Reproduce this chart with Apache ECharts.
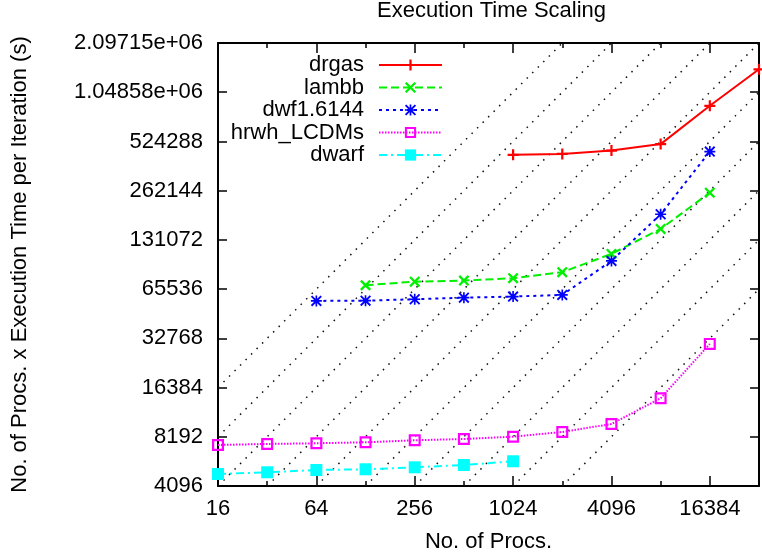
<!DOCTYPE html>
<html><head><meta charset="utf-8">
<script src="https://cdn.jsdelivr.net/npm/echarts@6/dist/echarts.min.js"></script>
<style>html,body{margin:0;padding:0;background:#fff}#c{width:762px;height:558px}</style>
</head><body><div id="c"></div>
<script>
const titleText = 'Execution Time Scaling';
const xName = 'No. of Procs.';
const yName = 'No. of Procs. x Execution Time per Iteration (s)';

const X_MIN = 16, X_MAX = 32768, Y_MIN = 4096, Y_MAX = 2097152;
const xTickValues = [16, 64, 256, 1024, 4096, 16384];
const xTickLabels = ['16', '64', '256', '1024', '4096', '16384'];
const yTickValues = [4096, 8192, 16384, 32768, 65536, 131072, 262144, 524288, 1048576, 2097152];
const yTickLabels = ['4096', '8192', '16384', '32768', '65536', '131072', '262144', '524288', '1.04858e+06', '2.09715e+06'];

const seriesNames = ['drgas', 'lambb', 'dwf1.6144', 'hrwh_LCDMs', 'dwarf'];
const drgasProcs = [1024, 2048, 4096, 8192, 16384, 32768];
const drgasValues = [434000, 440000, 461000, 505000, 866000, 1448000];
const lambbProcs = [128, 256, 512, 1024, 2048, 4096, 8192, 16384];
const lambbValues = [69200, 72800, 73900, 76400, 83200, 107600, 153000, 255000];
const dwfProcs = [64, 128, 256, 512, 1024, 2048, 4096, 8192, 16384];
const dwfValues = [55500, 55700, 56800, 58100, 59000, 60400, 97500, 188000, 454700];
const hrwhProcs = [16, 32, 64, 128, 256, 512, 1024, 2048, 4096, 8192, 16384];
const hrwhValues = [7298, 7403, 7475, 7581, 7797, 7942, 8203, 8766, 9813, 14094, 30287];
const dwarfProcs = [16, 32, 64, 128, 256, 512, 1024];
const dwarfValues = [4849, 4970, 5132, 5183, 5330, 5505, 5801];

// constants c of the ideal-scaling reference lines  y = c * x
const idealConstants = [2, 4, 8, 16, 32, 64, 128, 256, 512, 1024];

const FONT = '"Liberation Sans", Arial, Helvetica, sans-serif';
const txt = { fontSize: 22, fontFamily: FONT, color: '#000' };

const PLUS = 'path://M4,0h2v10h-2z M0,4h10v2h-10z';
const CROSS = 'path://M1.5,0 L10,8.5 L8.5,10 L0,1.5 Z M8.5,0 L10,1.5 L1.5,10 L0,8.5 Z';
const STAR = 'path://M4.25,0h1.5v10h-1.5z M0,4.25h10v1.5h-10z M1.2,0 L10,8.8 L8.8,10 L0,1.2 Z M8.8,0 L10,1.2 L1.2,10 L0,8.8 Z';
const OPENSQ = 'path://M0,0h12v12h-12z M2.2,2.2v7.6h7.6v-7.6z';

function zip(a, b) { return a.map((v, i) => [v, b[i]]); }
function lookup(vals, labels, v) {
  for (let i = 0; i < vals.length; i++) {
    if (Math.abs(Math.log2(v) - Math.log2(vals[i])) < 0.01) return labels[i];
  }
  return '';
}

function xAx(position, interval, tickLen, showLine, showLabel, withName) {
  const a = {
    type: 'log', logBase: 2, min: X_MIN, max: X_MAX, interval: interval, position: position,
    axisLine: { show: showLine, lineStyle: { color: '#000', width: 2 } },
    axisTick: { show: true, inside: true, length: tickLen, lineStyle: { color: '#000', width: 1.5 } },
    axisLabel: { show: showLabel, margin: 12, formatter: v => lookup(xTickValues, xTickLabels, v), ...txt },
    splitLine: { show: false }, minorTick: { show: false }
  };
  if (withName) {
    Object.assign(a, { name: xName, nameLocation: 'middle', nameGap: 45, nameTextStyle: txt });
  }
  return a;
}
function yAx(position, showLabel, withName) {
  const a = {
    type: 'log', logBase: 2, min: Y_MIN, max: Y_MAX, interval: 1, position: position,
    axisLine: { show: true, lineStyle: { color: '#000', width: 2 } },
    axisTick: { show: true, inside: true, length: 9, lineStyle: { color: '#000', width: 1.5 } },
    axisLabel: { show: showLabel, margin: 15, formatter: v => lookup(yTickValues, yTickLabels, v), ...txt },
    splitLine: { show: false }, minorTick: { show: false }
  };
  if (withName) {
    Object.assign(a, { name: yName, nameLocation: 'middle', nameGap: 187, nameTextStyle: txt });
  }
  return a;
}

const dataSeries = [
  { name: seriesNames[0], data: zip(drgasProcs, drgasValues), color: '#ff0000', symbol: PLUS, size: 11, dash: 'solid' },
  { name: seriesNames[1], data: zip(lambbProcs, lambbValues), color: '#00f000', symbol: CROSS, size: 11, dash: [8, 4] },
  { name: seriesNames[2], data: zip(dwfProcs, dwfValues), color: '#0000ff', symbol: STAR, size: 11, dash: [3, 4] },
  { name: seriesNames[3], data: zip(hrwhProcs, hrwhValues), color: '#ff00ff', symbol: OPENSQ, size: 12, dash: [1.5, 1.5] },
  { name: seriesNames[4], data: zip(dwarfProcs, dwarfValues), color: '#00ffff', symbol: 'rect', size: 12, dash: [8, 4, 2, 4] }
].map(s => ({
  name: s.name, type: 'line', data: s.data, xAxisIndex: 0, yAxisIndex: 0,
  symbol: s.symbol, symbolSize: s.size, showSymbol: true, z: 5,
  lineStyle: { color: s.color, width: 2, type: s.dash },
  itemStyle: { color: s.color, borderWidth: 0 },
  emphasis: { disabled: true }
}));

const idealSeries = idealConstants.map(c => {
  const x0 = Math.max(X_MIN, Y_MIN / c), x1 = Math.min(X_MAX, Y_MAX / c);
  return {
    type: 'line', data: [[x0, c * x0], [x1, c * x1]], xAxisIndex: 0, yAxisIndex: 0,
    symbol: 'none', silent: true, z: 1,
    lineStyle: { color: '#111', width: 1.5, type: [1.5, 6.3] },
    emphasis: { disabled: true }
  };
});

const chart = echarts.init(document.getElementById('c'), null, { renderer: 'canvas' });
chart.setOption({
  animation: false,
  backgroundColor: '#fff',
  title: { text: titleText, left: 491.5, top: 0, textAlign: 'center', padding: 0,
    textStyle: { fontSize: 22, fontWeight: 'normal', fontFamily: FONT, color: '#000' } },
  grid: { left: 218, right: -3, top: 43, bottom: 72 },
  legend: {
    data: seriesNames, orient: 'vertical', right: 319, top: 54, align: 'right',
    itemWidth: 63, itemHeight: 14, itemGap: 0.5, padding: 0, selectedMode: false,
    textStyle: { ...txt, lineHeight: 22, padding: [0, 10, 0, 0] }
  },
  xAxis: [
    xAx('bottom', 1, 5, true, false, true),
    xAx('bottom', 2, 10, false, true, false),
    xAx('top', 1, 5, true, false, false),
    xAx('top', 2, 10, false, false, false)
  ],
  yAxis: [yAx('left', true, true), yAx('right', false, false)],
  series: idealSeries.concat(dataSeries)
});
</script></body></html>
